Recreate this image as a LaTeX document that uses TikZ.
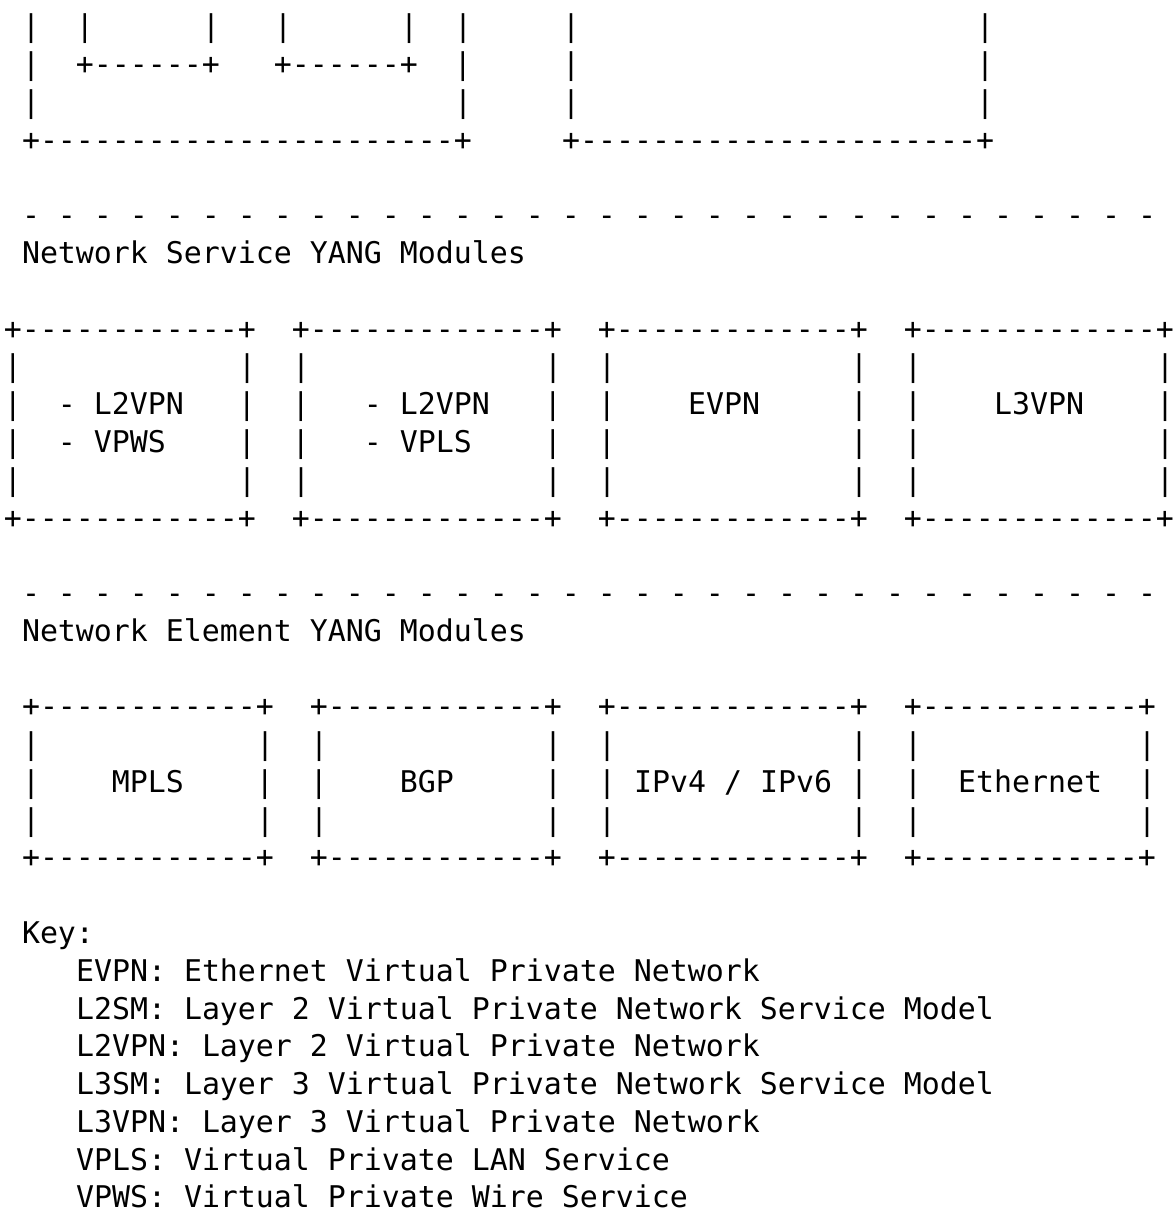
\documentclass[tikz,border=0pt]{standalone}
\usepackage{fontspec}
\setmonofont{DejaVu Sans Mono}
\newlength\cw
% monospaced helpers: n blank cells, n dashes
\newcommand\gap[1]{\hspace*{#1\cw}}
\newcommand\dashes[1]{\foreach\i in {1,...,#1}{-}}
\newcommand\rulerow{\foreach\i in {1,...,31}{-\gap1}-}
\newcommand\asciifont{\ttfamily\fontsize{29.9pt}{38pt}\selectfont}
\tikzset{
  ascii/.style={anchor=base west, inner sep=0pt, outer sep=0pt, font=\asciifont},
}
% column / row grid of the text
\def\X{4}
\def\W{18.0}
\def\B{37}
\def\P{37.77}
\begin{document}
\settowidth\cw{\asciifont x}%
\begin{tikzpicture}[x=1pt,y=-1pt]
\useasboundingbox (0,0) rectangle (1175,1209);
% bottom of the upper service model boxes
\node[ascii] (l1)  at ({\X+\W*1},{\B+\P*0}) {|\gap2|\gap6|\gap3|\gap6|\gap2|\gap5|\gap{22}|};
\node[ascii] (l2)  at ({\X+\W*1},{\B+\P*1}) {|\gap2+\dashes{6}+\gap3+\dashes{6}+\gap2|\gap5|\gap{22}|};
\node[ascii] (l3)  at ({\X+\W*1},{\B+\P*2}) {|\gap{23}|\gap5|\gap{22}|};
\node[ascii] (l4)  at ({\X+\W*1},{\B+\P*3}) {+\dashes{23}+\gap5+\dashes{22}+};
% network service layer
\node[ascii] (l6)  at ({\X+\W*1},{\B+\P*5}) {\rulerow};
\node[ascii] (l7)  at ({\X+\W*1},{\B+\P*6}) {Network Service YANG Modules};
\node[ascii] (l9)  at ({\X+\W*0},{\B+\P*8}) {+\dashes{12}+\gap2+\dashes{13}+\gap2+\dashes{13}+\gap2+\dashes{13}+};
\node[ascii] (l10) at ({\X+\W*0},{\B+\P*9}) {|\gap{12}|\gap2|\gap{13}|\gap2|\gap{13}|\gap2|\gap{13}|};
\node[ascii] (l11) at ({\X+\W*0},{\B+\P*10}) {|\gap2-\gap1L2VPN\gap3|\gap2|\gap3-\gap1L2VPN\gap3|\gap2|\gap4EVPN\gap5|\gap2|\gap4L3VPN\gap4|};
\node[ascii] (l12) at ({\X+\W*0},{\B+\P*11}) {|\gap2-\gap1VPWS\gap4|\gap2|\gap3-\gap1VPLS\gap4|\gap2|\gap{13}|\gap2|\gap{13}|};
\node[ascii] (l13) at ({\X+\W*0},{\B+\P*12}) {|\gap{12}|\gap2|\gap{13}|\gap2|\gap{13}|\gap2|\gap{13}|};
\node[ascii] (l14) at ({\X+\W*0},{\B+\P*13}) {+\dashes{12}+\gap2+\dashes{13}+\gap2+\dashes{13}+\gap2+\dashes{13}+};
% network element layer
\node[ascii] (l16) at ({\X+\W*1},{\B+\P*15}) {\rulerow};
\node[ascii] (l17) at ({\X+\W*1},{\B+\P*16}) {Network Element YANG Modules};
\node[ascii] (l19) at ({\X+\W*1},{\B+\P*18}) {+\dashes{12}+\gap2+\dashes{12}+\gap2+\dashes{13}+\gap2+\dashes{12}+};
\node[ascii] (l20) at ({\X+\W*1},{\B+\P*19}) {|\gap{12}|\gap2|\gap{12}|\gap2|\gap{13}|\gap2|\gap{12}|};
\node[ascii] (l21) at ({\X+\W*1},{\B+\P*20}) {|\gap4MPLS\gap4|\gap2|\gap4BGP\gap5|\gap2|\gap1IPv4\gap1/\gap1IPv6\gap1|\gap2|\gap2Ethernet\gap2|};
\node[ascii] (l22) at ({\X+\W*1},{\B+\P*21}) {|\gap{12}|\gap2|\gap{12}|\gap2|\gap{13}|\gap2|\gap{12}|};
\node[ascii] (l23) at ({\X+\W*1},{\B+\P*22}) {+\dashes{12}+\gap2+\dashes{12}+\gap2+\dashes{13}+\gap2+\dashes{12}+};
% key
\node[ascii] (l25) at ({\X+\W*1},{\B+\P*24}) {Key:};
\node[ascii] (l26) at ({\X+\W*4},{\B+\P*25}) {EVPN: Ethernet Virtual Private Network};
\node[ascii] (l27) at ({\X+\W*4},{\B+\P*26}) {L2SM: Layer 2 Virtual Private Network Service Model};
\node[ascii] (l28) at ({\X+\W*4},{\B+\P*27}) {L2VPN: Layer 2 Virtual Private Network};
\node[ascii] (l29) at ({\X+\W*4},{\B+\P*28}) {L3SM: Layer 3 Virtual Private Network Service Model};
\node[ascii] (l30) at ({\X+\W*4},{\B+\P*29}) {L3VPN: Layer 3 Virtual Private Network};
\node[ascii] (l31) at ({\X+\W*4},{\B+\P*30}) {VPLS: Virtual Private LAN Service};
\node[ascii] (l32) at ({\X+\W*4},{\B+\P*31}) {VPWS: Virtual Private Wire Service};
\end{tikzpicture}
\end{document}
